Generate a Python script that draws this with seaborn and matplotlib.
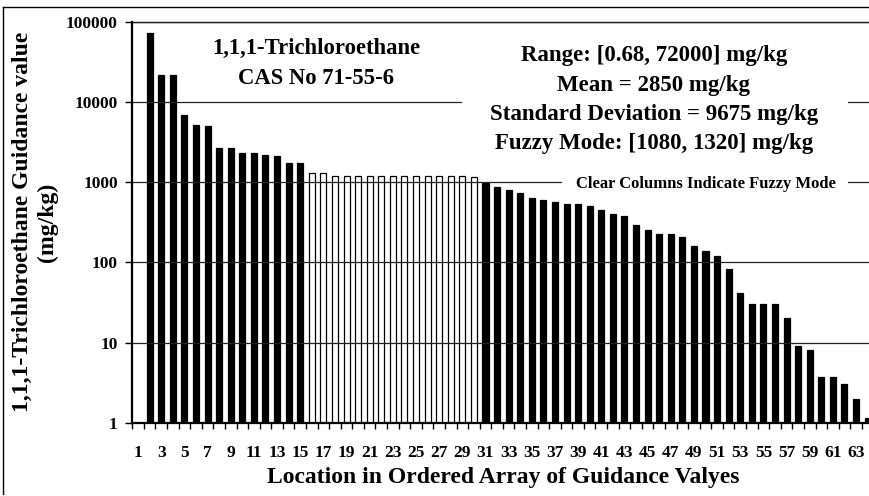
import numpy as np
import pandas as pd
import matplotlib
matplotlib.use("Agg")
import matplotlib.pyplot as plt
import seaborn as sns
from matplotlib.patches import Rectangle
from matplotlib.lines import Line2D
from matplotlib.ticker import FixedLocator, NullLocator

# ---------------- data ----------------
locations = list(range(1, 65))
lead_gap = [np.nan]  # location 1 shows no column
upper_values = [72000, 22000, 22000, 7000, 5200, 5000, 2700, 2700, 2300, 2300,
                2200, 2100, 1750, 1750]
fuzzy_values = [1320, 1320, 1200, 1200, 1200, 1200, 1200, 1200, 1200, 1200,
                1200, 1200, 1200, 1200, 1150]
lower_values = [970, 880, 800, 730, 640, 600, 560, 530, 530, 500,
                450, 400, 380, 290, 255, 225, 225, 210, 160, 140,
                120, 82, 42, 30, 30, 30, 20, 9, 8, 3.7,
                3.7, 3.0, 2.0, 1.15]
ytick_values = [1, 10, 100, 1000, 10000, 100000]
ytick_labels = ["1", "10", "100", "1000", "10000", "100000"]
title_lines = ["1,1,1-Trichloroethane", "CAS No 71-55-6"]
stats_lines = ["Range: [0.68, 72000] mg/kg", "Mean = 2850 mg/kg",
               "Standard Deviation = 9675 mg/kg", "Fuzzy Mode: [1080, 1320] mg/kg"]
note_text = "Clear Columns Indicate Fuzzy Mode"
xlabel = "Location in Ordered Array of Guidance Valyes"
ylabel_lines = ["1,1,1-Trichloroethane Guidance value", "(mg/kg)"]

values = lead_gap + upper_values + fuzzy_values + lower_values
groups = (["outside"] * len(lead_gap) + ["outside"] * len(upper_values)
          + ["fuzzy"] * len(fuzzy_values) + ["outside"] * len(lower_values))
df = pd.DataFrame({"loc": locations, "value": values, "group": groups})

# ---------------- figure ----------------
plt.rcParams["font.family"] = ["Liberation Serif", "DejaVu Serif"]
plt.rcParams["font.weight"] = "bold"

W, H = 870, 496
fig = plt.figure(figsize=(W / 100, H / 100), dpi=100)

def fx(px):
    return px / W

def fy(py):
    return 1 - py / H

left_px, top_px, bottom_px = 132.3, 22.0, 422.7
cat_w = 11.58
ax = fig.add_axes([fx(left_px), fy(bottom_px), fx(W - left_px), (bottom_px - top_px) / H])

sns.barplot(data=df, x="loc", y="value", hue="group", dodge=False,
            palette={"outside": "black", "fuzzy": "white"},
            edgecolor="black", linewidth=0.9, width=0.52, legend=False,
            ax=ax, zorder=2)

ax.set_yscale("log")
ax.set_ylim(1, 100000)
ax.set_xlim(-0.5, -0.5 + (W - left_px) / cat_w)
ax.set_axisbelow(False)

# y ticks
ax.yaxis.set_major_locator(FixedLocator(ytick_values))
ax.set_yticklabels(ytick_labels)
ax.yaxis.set_minor_locator(NullLocator())
ax.tick_params(axis="y", which="major", length=5, width=1, pad=5.5,
               labelsize=12.5, direction="out")
for t in ax.get_yticklabels():
    t.set_fontweight("bold")

# x ticks: labels at category centres, marks at category boundaries
ax.set_xticks(list(range(0, 64, 2)))
ax.set_xticklabels([str(l) for l in locations[::2]])
ax.xaxis.set_minor_locator(FixedLocator(np.arange(-0.5, 64, 1)))
ax.tick_params(axis="x", which="major", length=0, pad=16, labelsize=12.5)
ax.tick_params(axis="x", which="minor", length=4, width=1, direction="out")
for t in ax.get_xticklabels():
    t.set_fontweight("bold")
ax.set_xlabel("")
ax.set_ylabel("")

# grid
ax.yaxis.grid(True, which="major", color="#222222", linewidth=0.9, zorder=1.5)
ax.xaxis.grid(False)

for s in ["left", "bottom"]:
    ax.spines[s].set_linewidth(1.6)
    ax.spines[s].set_color("black")
ax.spines["top"].set_linewidth(1.0)
ax.spines["top"].set_color("black")
ax.spines["right"].set_visible(False)

# white boxes that interrupt grid lines behind the text blocks
def white_box(x0, y0, x1, y1):
    r = Rectangle((fx(x0), fy(y1)), fx(x1 - x0), (y1 - y0) / H,
                  transform=fig.transFigure, facecolor="white",
                  edgecolor="none", zorder=3)
    ax.add_patch(r)

white_box(462, 38, 848, 160)
white_box(562, 175, 848, 192)

# texts
for line, y in zip(title_lines, [48.5, 78]):
    fig.text(fx(316.5), fy(y), line, ha="center", va="center",
             fontsize=16.3, fontweight="bold", zorder=5)
for line, y in zip(stats_lines, [56, 85.5, 114.5, 143.5]):
    fig.text(fx(654), fy(y), line, ha="center", va="center",
             fontsize=16.5, fontweight="bold", zorder=5)
fig.text(fx(705.5), fy(184), note_text, ha="center", va="center",
         fontsize=12, fontweight="bold", zorder=5)

fig.text(fx(503), fy(478), xlabel, ha="center", va="center",
         fontsize=17, fontweight="bold")
fig.text(fx(22), fy(222), ylabel_lines[0], ha="center", va="center",
         rotation=90, fontsize=17, fontweight="bold")
fig.text(fx(47), fy(222), ylabel_lines[1], ha="center", va="center",
         rotation=90, fontsize=17, fontweight="bold")

# outer chart border (cropped on the right)
fig.add_artist(Line2D([fx(3.5), fx(3.5)], [fy(7), fy(494)], color="black",
                      linewidth=1.0, transform=fig.transFigure))
fig.add_artist(Line2D([fx(3.5), 1.0], [fy(7), fy(7)], color="black",
                      linewidth=1.0, transform=fig.transFigure))

fig.savefig("out.png", dpi=100)
